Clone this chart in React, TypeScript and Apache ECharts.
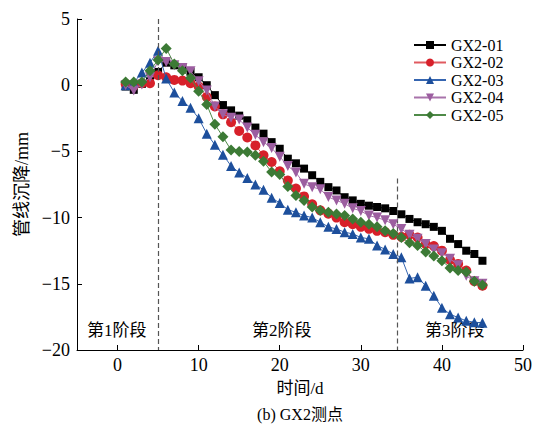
import React, { useEffect, useRef } from "react";
import * as echarts from "echarts";

const days = Array.from({ length: 45 }, (_, i) => i + 1);
const seriesNames = ["GX2-01", "GX2-02", "GX2-03", "GX2-04", "GX2-05"];
const gx01 = [-0.1, -0.35, 0.1, 0.3, 1.0, 1.7, 1.5, 1.3, 1.0, 0.6, 0, -0.75, -1.5, -1.9, -2.3, -2.65, -3.2, -3.66, -4.3, -4.8, -5.55, -5.9, -6.3, -6.8, -7.3, -7.7, -7.95, -8.46, -8.7, -8.96, -9.1, -9.2, -9.3, -9.5, -9.75, -10.1, -10.35, -10.5, -10.7, -11.0, -11.6, -12.0, -12.5, -12.75, -13.26];
const gx02 = [0.1, -0.05, 0.15, 0.15, 0.75, 0.6, 0.4, 0.35, 0.15, -0.1, -0.9, -1.6, -2.2, -2.8, -3.45, -3.95, -4.55, -5.3, -5.8, -6.5, -7.2, -7.8, -8.4, -9.0, -9.45, -9.7, -10.0, -10.35, -10.5, -10.7, -10.85, -11.0, -11.1, -11.3, -11.45, -11.3, -11.5, -12.0, -12.15, -12.5, -13.2, -13.5, -14.0, -14.8, -15.15];
const gx03 = [0, 0.2, 0.95, 1.7, 2.6, 0.5, -0.55, -1.2, -1.7, -2.5, -3.66, -4.5, -5.25, -6.1, -6.6, -7.0, -7.5, -7.9, -8.5, -8.9, -9.4, -9.6, -9.85, -10.0, -10.35, -10.7, -10.86, -11.1, -11.23, -11.5, -11.6, -12.1, -12.4, -12.75, -13.0, -14.6, -14.5, -15.15, -15.9, -16.8, -17.3, -17.55, -17.8, -17.9, -17.95];
const gx04 = [0, -0.4, 0.05, 0.6, 1.8, 1.75, 1.5, 1.3, 1.05, 0.3, -0.4, -1.6, -2.2, -2.45, -2.6, -3.2, -3.75, -4.3, -4.75, -5.4, -6.1, -6.6, -7.45, -7.7, -7.85, -8.45, -8.7, -8.95, -9.3, -9.5, -9.85, -10.0, -10.2, -10.5, -10.86, -11.3, -11.6, -12.0, -12.4, -12.7, -13.1, -13.6, -14.4, -14.8, -15.0];
const gx05 = [0.25, 0.25, 0.25, 1.1, 1.9, 2.78, 1.6, 1.1, 0.55, -0.45, -1.45, -2.95, -3.9, -4.9, -5.0, -5.05, -5.3, -5.75, -6.56, -6.75, -7.65, -8.33, -8.7, -9.2, -9.47, -9.6, -9.72, -9.85, -10.1, -10.35, -10.5, -10.7, -11.0, -11.2, -11.5, -11.9, -12.1, -12.6, -12.9, -13.26, -13.8, -14.0, -14.1, -14.8, -15.1];
const xTicks = [0, 10, 20, 30, 40, 50];
const stageBoundaries = [5, 34.5];
const stageLabels = ["第1阶段", "第2阶段", "第3阶段"];

const SERIF = "'Liberation Serif', 'Noto Sans CJK SC', serif";

export default function App() {
  const ref = useRef<HTMLDivElement>(null);
  useEffect(() => {
    if (!ref.current) return;
    const chart = echarts.init(ref.current, null, { renderer: "svg" });
    const values = [gx01, gx02, gx03, gx04, gx05];
    const symbols = ["rect", "circle", "triangle", "path://M0,0 L10,0 L5,10 Z", "diamond"];
    const sizes = [8, 10, 10, 10, 11];
    const markerColors = ["#000000", "#d7202a", "#1d4f9c", "#9c5ea0", "#3c7a35"];
    const lineColors = ["#000000", "#e05a60", "#3565b0", "#a873ab", "#4f8a48"];
    const series: any[] = values.map((v, i) => ({
      name: seriesNames[i],
      type: "line",
      data: days.map((d, j) => [d, v[j]]),
      symbol: symbols[i],
      symbolSize: sizes[i],
      showSymbol: true,
      itemStyle: { color: markerColors[i] },
      lineStyle: { color: lineColors[i], width: 1 },
      z: 2 + i,
    }));
    series[0].markLine = {
      silent: true,
      symbol: "none",
      label: { show: false },
      lineStyle: { type: [5, 3], color: "#555", width: 1.2 },
      data: [
        [{ coord: [stageBoundaries[0], 5] }, { coord: [stageBoundaries[0], -20] }],
        [{ coord: [stageBoundaries[1], -7.05] }, { coord: [stageBoundaries[1], -20] }],
      ],
    };
    chart.setOption({
      animation: false,
      grid: { left: 77, right: 20, top: 19, bottom: 80, containLabel: false },
      legend: {
        orient: "vertical",
        left: 408,
        top: 32,
        itemWidth: 32,
        itemHeight: 10,
        itemGap: 1.5,
        textStyle: { fontFamily: SERIF, fontSize: 16, color: "#000", padding: [0, 0, 0, 0] },
        data: seriesNames,
      },
      xAxis: {
        type: "value",
        min: -5,
        max: 50,
        name: "时间/d",
        nameLocation: "middle",
        nameGap: 30,
        nameTextStyle: { fontFamily: SERIF, fontSize: 17, color: "#000" },
        axisLine: { onZero: false, lineStyle: { color: "#000", width: 1 } },
        axisTick: { inside: true, length: 5, customValues: xTicks, lineStyle: { color: "#000" } },
        axisLabel: { customValues: xTicks, fontFamily: SERIF, fontSize: 18, color: "#000", margin: 6 },
        splitLine: { show: false },
      },
      yAxis: {
        type: "value",
        min: -20,
        max: 5,
        interval: 5,
        name: "管线沉降/mm",
        nameLocation: "middle",
        nameGap: 46,
        nameRotate: 90,
        nameTextStyle: { fontFamily: SERIF, fontSize: 18, color: "#000" },
        axisLine: { show: true, onZero: false, lineStyle: { color: "#000", width: 1 } },
        axisTick: { show: true, inside: true, length: 5, lineStyle: { color: "#000" } },
        axisLabel: {
          fontFamily: SERIF,
          fontSize: 18,
          color: "#000",
          margin: 7,
          formatter: (v: number) => (v < 0 ? "\u2212" + Math.abs(v) : String(v)),
        },
        splitLine: { show: false },
      },
      graphic: [
        { type: "text", left: 87, top: 322, style: { text: stageLabels[0], font: `17px ${SERIF}`, fill: "#000" } },
        { type: "text", left: 252, top: 322, style: { text: stageLabels[1], font: `17px ${SERIF}`, fill: "#000" } },
        { type: "text", left: 425, top: 322, style: { text: stageLabels[2], font: `17px ${SERIF}`, fill: "#000" } },
        { type: "text", x: 300, y: 414, style: { text: "(b) GX2测点", font: `16px ${SERIF}`, fill: "#000", align: "center", verticalAlign: "middle" } },
      ],
      series,
    });
    return () => chart.dispose();
  }, []);
  return <div ref={ref} style={{ width: 543, height: 430, position: "absolute", left: 0, top: 0 }} />;
}
